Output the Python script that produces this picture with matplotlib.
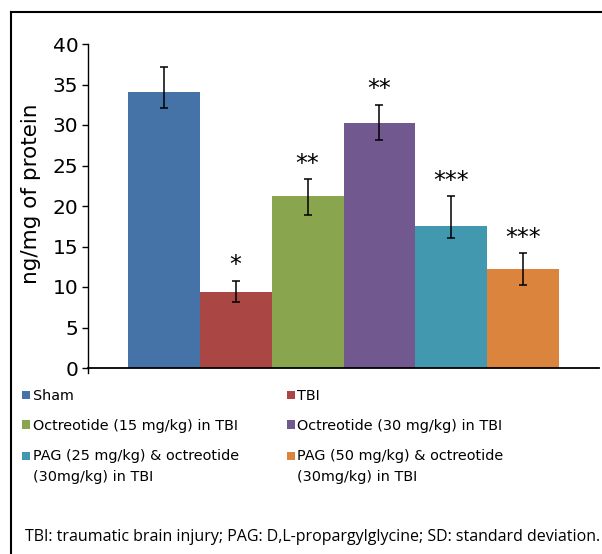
import matplotlib
matplotlib.use("Agg")
import matplotlib.pyplot as plt
from matplotlib.lines import Line2D
from matplotlib.patches import Rectangle
from matplotlib.legend_handler import HandlerPatch
import numpy as np

groups = ["Sham", "TBI", "Octreotide (15 mg/kg) in TBI", "Octreotide (30 mg/kg) in TBI",
          "PAG (25 mg/kg) & octreotide\n(30mg/kg) in TBI", "PAG (50 mg/kg) & octreotide\n(30mg/kg) in TBI"]
values = [34.1, 9.4, 21.2, 30.3, 17.5, 12.2]
err_low = [2.0, 1.3, 2.3, 2.2, 1.5, 1.9]
err_high = [3.1, 1.4, 2.1, 2.2, 3.7, 2.0]
stars = ["", "*", "**", "**", "***", "***"]
colors = ["#4572A7", "#AA4643", "#89A54E", "#71588F", "#4198AF", "#DB843D"]
yticks = [0, 5, 10, 15, 20, 25, 30, 35, 40]
ylabel = "ng/mg of protein"
footnote = "TBI: traumatic brain injury; PAG: D,L-propargylglycine; SD: standard deviation."

W, H = 602, 554
fig = plt.figure(figsize=(W / 100, H / 100), dpi=100)
plt.rcParams['font.family'] = ['DejaVu Sans']

def fx(px):
    return px / W

def fy(py):
    return 1 - py / H

ax = fig.add_axes([fx(88), fy(368), fx(599) - fx(88), fy(44) - fy(368)])

x = np.arange(len(values))
handles = []
for i in range(len(values)):
    b = ax.bar(x[i], values[i], width=1.0, color=colors[i], label=groups[i], zorder=2)
    handles.append(b.patches[0])
    ax.errorbar(x[i], values[i], yerr=[[err_low[i]], [err_high[i]]], fmt='none',
                ecolor='black', elinewidth=1.1, capsize=3, capthick=1.1, zorder=3)
    if stars[i]:
        ax.annotate(stars[i], (x[i], values[i] + err_high[i]), xytext=(0, 11),
                    textcoords='offset points', ha='center', va='center', fontsize=17)

ax.set_xlim(-1.056, len(values) - 1 + 1.056)
ax.set_ylim(0, 40)
ax.set_yticks(yticks)
ax.tick_params(axis='y', labelsize=14.5, length=4, width=1, pad=3, direction='out')
ax.set_xticks([])
for s in ['top', 'right']:
    ax.spines[s].set_visible(False)
ax.spines['left'].set_linewidth(1)
ax.spines['bottom'].set_linewidth(1.3)
ax.set_ylabel(ylabel, fontsize=15.5)
ax.yaxis.set_label_coords(-0.092, 0.537)

# small downward tick at origin
ax.plot([ax.get_xlim()[0]] * 2, [0, -0.6], color='black', lw=1, clip_on=False)


def top_square(legend, orig_handle, xdescent, ydescent, width, height, fontsize):
    return Rectangle((-xdescent, -ydescent + 8.0), width, height)


handler_map = {}
for i, g in enumerate(groups):
    if "\n" in g:
        handler_map[handles[i]] = HandlerPatch(patch_func=top_square)

order = [0, 2, 4, 1, 3, 5]
leg = fig.legend([handles[i] for i in order], [groups[i] for i in order], ncol=2,
                 loc='upper left', bbox_to_anchor=(fx(22), fy(389)), frameon=False,
                 fontsize=10.4, handlelength=0.55, handleheight=0.55, handletextpad=0.2,
                 columnspacing=3.3, labelspacing=1.1, borderaxespad=0, borderpad=0,
                 handler_map=handler_map)
for t in leg.get_texts():
    t.set_linespacing(1.7)

fig.text(fx(25), fy(537), footnote, fontsize=11.5, family=['Open Sans', 'DejaVu Sans'],
         ha='left', va='center')

# outer frame: top and left lines
fig.add_artist(Line2D([fx(11), 1], [fy(12), fy(12)], color='black', lw=1.5))
fig.add_artist(Line2D([fx(11), fx(11)], [fy(12), 0], color='black', lw=1.5))

fig.savefig("out.png", dpi=100)
